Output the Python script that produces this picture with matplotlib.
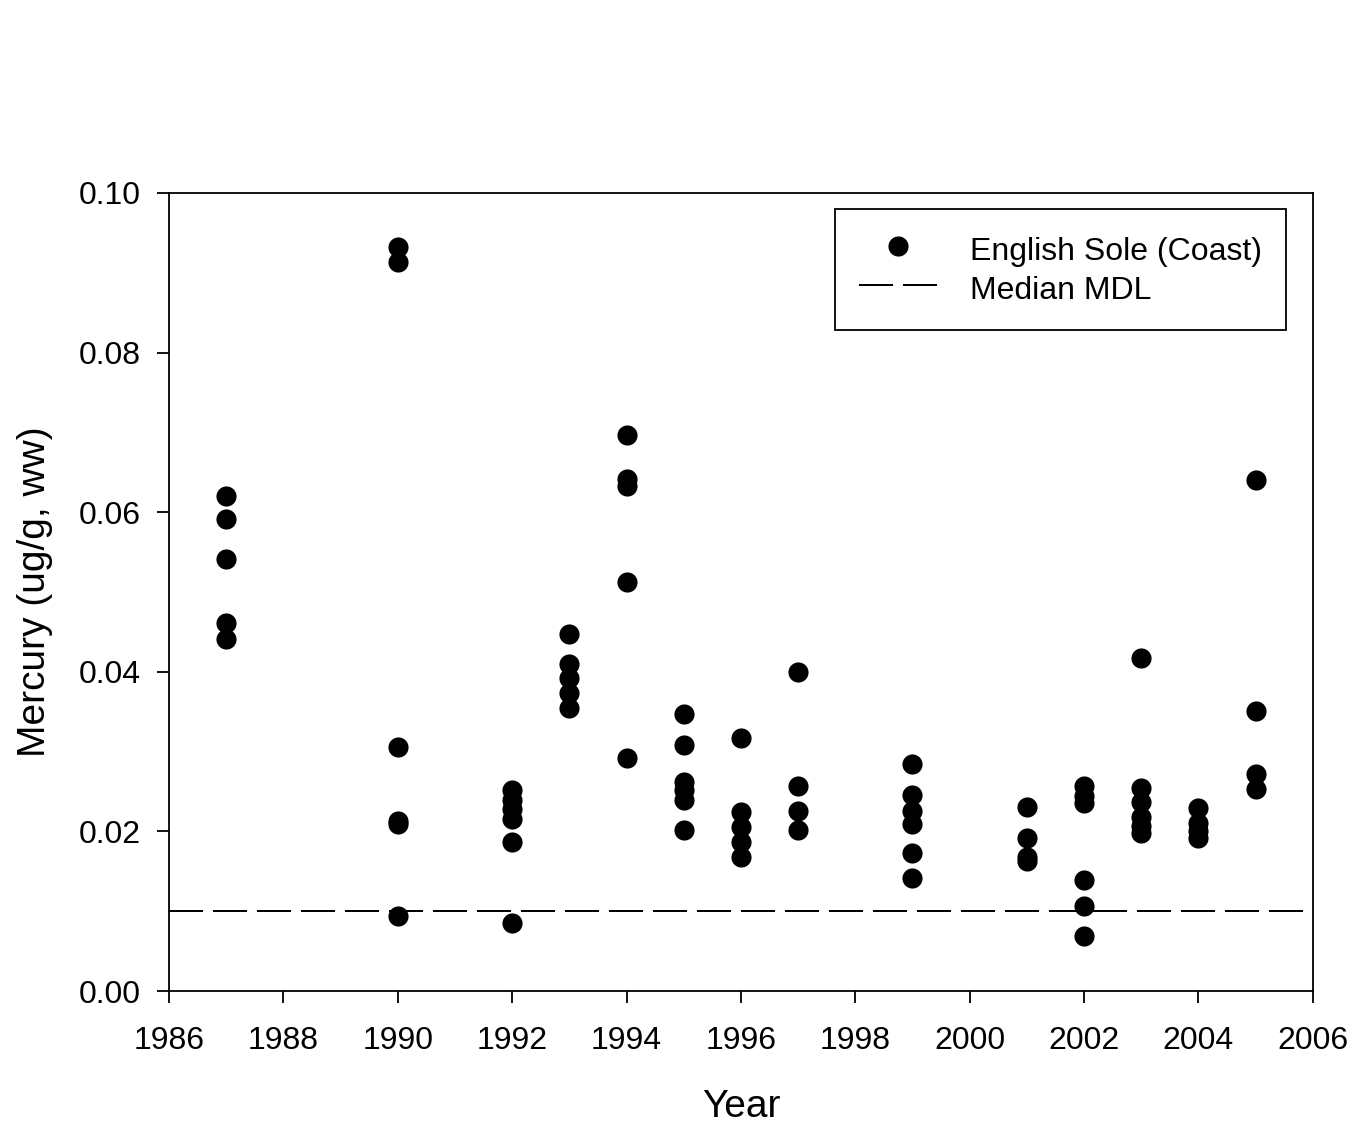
import numpy as np
import matplotlib.pyplot as plt

plt.rcParams['font.family'] = ['Liberation Sans', 'DejaVu Sans']

# mercury in English sole (coast), ug/g wet weight, by year
years = [1987, 1990, 1992, 1993, 1994, 1995, 1996, 1997, 1999, 2001, 2002, 2003, 2004, 2005]
mercury = [
    [0.0620, 0.0591, 0.0541, 0.0461, 0.0441],
    [0.0932, 0.0914, 0.0306, 0.0213, 0.0209, 0.0094],
    [0.0252, 0.0240, 0.0228, 0.0215, 0.0187, 0.0085],
    [0.0447, 0.0410, 0.0392, 0.0374, 0.0355],
    [0.0697, 0.0642, 0.0633, 0.0512, 0.0292],
    [0.0347, 0.0308, 0.0262, 0.0252, 0.0240, 0.0202],
    [0.0317, 0.0224, 0.0206, 0.0187, 0.0168],
    [0.0400, 0.0257, 0.0226, 0.0202],
    [0.0284, 0.0246, 0.0226, 0.0209, 0.0173, 0.0142],
    [0.0231, 0.0192, 0.0168, 0.0163],
    [0.0257, 0.0245, 0.0235, 0.0139, 0.0107, 0.0069],
    [0.0417, 0.0255, 0.0237, 0.0218, 0.0207, 0.0198],
    [0.0229, 0.0211, 0.0200, 0.0192],
    [0.0640, 0.0351, 0.0272, 0.0253],
]
median_mdl = 0.010

x = np.concatenate([[yr] * len(v) for yr, v in zip(years, mercury)])
y = np.concatenate(mercury)

fig = plt.figure(figsize=(13.55, 11.24), dpi=100)
ax = fig.add_axes([0.1247, 0.1183, 0.8442, 0.71])

ax.plot(x, y, 'o', color='black', ms=14.5, mec='black', mew=0, label='English Sole (Coast)')
ax.axhline(median_mdl, color='black', lw=1.44, ls=(0, (17, 5)), label='Median MDL')

ax.set_xlim(1986, 2006)
ax.set_ylim(0, 0.10)
ax.set_xticks(np.arange(1986, 2007, 2))
ax.set_yticks(np.arange(0, 0.101, 0.02))
ax.yaxis.set_major_formatter(plt.FormatStrFormatter('%.2f'))
ax.tick_params(direction='out', length=8.5, width=1.3, labelsize=23)
ax.tick_params(axis='x', pad=16.5)
ax.tick_params(axis='y', pad=12)
for s in ax.spines.values():
    s.set_linewidth(1.3)

ax.set_xlabel('Year', fontsize=28, labelpad=24)
ax.set_ylabel('Mercury (ug/g, ww)', fontsize=28, labelpad=18)

leg = ax.legend(loc='upper right', bbox_to_anchor=(0.9764, 0.98), fontsize=23,
                frameon=True, fancybox=False, edgecolor='black', framealpha=1,
                handlelength=2.45, handleheight=1.2, borderpad=0.75, labelspacing=0.15,
                handletextpad=1.03, borderaxespad=0, numpoints=1)
leg.get_frame().set_linewidth(1.3)

fig.savefig('out.png', dpi=100)
